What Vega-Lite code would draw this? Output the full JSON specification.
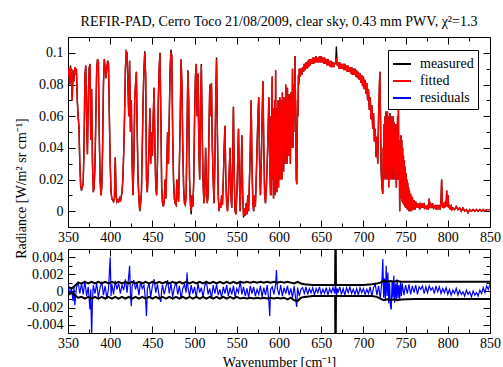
{
"$schema": "https://vega.github.io/schema/vega-lite/v6.json",
"background": "white",
"padding": {"left": 13, "top": 14, "right": 5, "bottom": 2},
"bounds": "flush",
"spacing": 22,
"config": {
  "view": {"stroke": "black", "strokeWidth": 1},
  "axis": {"labelFont": "Liberation Serif", "labelFontSize": 14, "labelColor": "black", "titleFont": "Liberation Serif", "titleFontSize": 14, "titleFontWeight": "normal", "titleColor": "black", "tickColor": "black", "tickWidth": 1, "domain": false, "grid": false, "labelOverlap": false, "labelFlush": false, "labelBound": false}
},
"datasets": {
"spec": [
{"w":350,"m":0.085,"f":0.085},{"w":351,"m":0.09,"f":0.09},{"w":352,"m":0.08,"f":0.08},{"w":353,"m":0.092,"f":0.091},{"w":354,"m":0.084,"f":0.084},{"w":355,"m":0.07,"f":0.07},{"w":356,"m":0.089,"f":0.089},{"w":357,"m":0.082,"f":0.082},{"w":358,"m":0.091,"f":0.091},{"w":359,"m":0.086,"f":0.086},
{"w":360,"m":0.09,"f":0.09},{"w":361,"m":0.07,"f":0.07},{"w":362,"m":0.06,"f":0.06},{"w":363,"m":0.053,"f":0.053},{"w":364,"m":0.03,"f":0.03},{"w":365,"m":0.016,"f":0.016},{"w":366,"m":0.013,"f":0.014},{"w":367,"m":0.015,"f":0.015},{"w":368,"m":0.018,"f":0.018},{"w":369,"m":0.04,"f":0.04},
{"w":370,"m":0.085,"f":0.085},{"w":371,"m":0.092,"f":0.092},{"w":372,"m":0.06,"f":0.06},{"w":373,"m":0.036,"f":0.036},{"w":374,"m":0.07,"f":0.07},{"w":375,"m":0.09,"f":0.09},{"w":376,"m":0.093,"f":0.093},{"w":377,"m":0.045,"f":0.045},{"w":378,"m":0.077,"f":0.077},{"w":379,"m":0.03,"f":0.03},
{"w":380,"m":0.012,"f":0.012},{"w":381,"m":0.015,"f":0.015},{"w":382,"m":0.03,"f":0.03},{"w":383,"m":0.06,"f":0.06},{"w":384,"m":0.09,"f":0.09},{"w":385,"m":0.096,"f":0.096},{"w":386,"m":0.094,"f":0.094},{"w":387,"m":0.05,"f":0.05},{"w":388,"m":0.02,"f":0.02},{"w":389,"m":0.01,"f":0.01},
{"w":390,"m":0.015,"f":0.015},{"w":391,"m":0.04,"f":0.04},{"w":392,"m":0.08,"f":0.08},{"w":393,"m":0.096,"f":0.096},{"w":394,"m":0.09,"f":0.09},{"w":395,"m":0.084,"f":0.084},{"w":396,"m":0.09,"f":0.09},{"w":397,"m":0.095,"f":0.095},{"w":398,"m":0.093,"f":0.093},{"w":399,"m":0.06,"f":0.06},
{"w":400,"m":0.03,"f":0.03},{"w":401,"m":0.012,"f":0.012},{"w":402,"m":0.008,"f":0.008},{"w":403,"m":0.007,"f":0.007},{"w":404,"m":0.006,"f":0.006},{"w":405,"m":0.008,"f":0.008},{"w":406,"m":0.034,"f":0.034},{"w":407,"m":0.01,"f":0.01},{"w":408,"m":0.006,"f":0.006},{"w":409,"m":0.007,"f":0.007},
{"w":410,"m":0.006,"f":0.006},{"w":411,"m":0.008,"f":0.008},{"w":412,"m":0.006,"f":0.006},{"w":413,"m":0.009,"f":0.009},{"w":414,"m":0.012,"f":0.012},{"w":415,"m":0.02,"f":0.02},{"w":416,"m":0.037,"f":0.037},{"w":417,"m":0.06,"f":0.06},{"w":418,"m":0.09,"f":0.09},{"w":419,"m":0.101,"f":0.101},
{"w":420,"m":0.1,"f":0.1},{"w":421,"m":0.08,"f":0.08},{"w":422,"m":0.06,"f":0.06},{"w":423,"m":0.095,"f":0.095},{"w":424,"m":0.05,"f":0.05},{"w":425,"m":0.07,"f":0.07},{"w":426,"m":0.03,"f":0.03},{"w":427,"m":0.01,"f":0.01},{"w":428,"m":0.03,"f":0.03},{"w":429,"m":0.07,"f":0.07},
{"w":430,"m":0.08,"f":0.08},{"w":431,"m":0.088,"f":0.088},{"w":432,"m":0.05,"f":0.05},{"w":433,"m":0.02,"f":0.02},{"w":434,"m":0.008,"f":0.008},{"w":435,"m":0.0,"f":0.0},{"w":436,"m":0.005,"f":0.005},{"w":437,"m":0.012,"f":0.012},{"w":438,"m":0.04,"f":0.04},{"w":439,"m":0.07,"f":0.07},
{"w":440,"m":0.09,"f":0.09},{"w":441,"m":0.101,"f":0.1},{"w":442,"m":0.085,"f":0.085},{"w":443,"m":0.02,"f":0.02},{"w":444,"m":0.012,"f":0.012},{"w":445,"m":0.025,"f":0.025},{"w":446,"m":0.04,"f":0.04},{"w":447,"m":0.065,"f":0.065},{"w":448,"m":0.03,"f":0.03},{"w":449,"m":0.05,"f":0.05},
{"w":450,"m":0.035,"f":0.035},{"w":451,"m":0.06,"f":0.06},{"w":452,"m":0.078,"f":0.078},{"w":453,"m":0.04,"f":0.04},{"w":454,"m":0.015,"f":0.015},{"w":455,"m":0.01,"f":0.01},{"w":456,"m":0.03,"f":0.03},{"w":457,"m":0.07,"f":0.07},{"w":458,"m":0.09,"f":0.09},{"w":459,"m":0.1,"f":0.1},
{"w":460,"m":0.06,"f":0.06},{"w":461,"m":0.015,"f":0.015},{"w":462,"m":0.005,"f":0.005},{"w":463,"m":0.003,"f":0.003},{"w":464,"m":0.006,"f":0.006},{"w":465,"m":0.02,"f":0.02},{"w":466,"m":0.008,"f":0.008},{"w":467,"m":0.03,"f":0.03},{"w":468,"m":0.05,"f":0.05},{"w":469,"m":0.03,"f":0.03},
{"w":470,"m":0.06,"f":0.06},{"w":471,"m":0.09,"f":0.09},{"w":472,"m":0.102,"f":0.101},{"w":473,"m":0.098,"f":0.098},{"w":474,"m":0.05,"f":0.05},{"w":475,"m":0.02,"f":0.02},{"w":476,"m":0.008,"f":0.008},{"w":477,"m":0.005,"f":0.005},{"w":478,"m":0.004,"f":0.004},{"w":479,"m":0.02,"f":0.02},
{"w":480,"m":0.01,"f":0.01},{"w":481,"m":0.006,"f":0.006},{"w":482,"m":0.03,"f":0.03},{"w":483,"m":0.06,"f":0.06},{"w":484,"m":0.096,"f":0.096},{"w":485,"m":0.08,"f":0.08},{"w":486,"m":0.04,"f":0.04},{"w":487,"m":0.015,"f":0.015},{"w":488,"m":0.005,"f":0.005},{"w":489,"m":0.004,"f":0.004},
{"w":490,"m":0.01,"f":0.01},{"w":491,"m":0.05,"f":0.05},{"w":492,"m":0.089,"f":0.088},{"w":493,"m":0.07,"f":0.07},{"w":494,"m":0.02,"f":0.02},{"w":495,"m":0.005,"f":0.005},{"w":496,"m":-0.002,"f":0.0},{"w":497,"m":0.01,"f":0.01},{"w":498,"m":0.003,"f":0.003},{"w":499,"m":0.02,"f":0.02},
{"w":500,"m":0.06,"f":0.06},{"w":501,"m":0.085,"f":0.085},{"w":502,"m":0.093,"f":0.093},{"w":503,"m":0.06,"f":0.06},{"w":504,"m":0.087,"f":0.087},{"w":505,"m":0.04,"f":0.04},{"w":506,"m":0.02,"f":0.02},{"w":507,"m":0.07,"f":0.07},{"w":508,"m":0.093,"f":0.092},{"w":509,"m":0.05,"f":0.05},
{"w":510,"m":0.02,"f":0.02},{"w":511,"m":0.005,"f":0.005},{"w":512,"m":0.01,"f":0.01},{"w":513,"m":0.04,"f":0.04},{"w":514,"m":0.02,"f":0.02},{"w":515,"m":0.005,"f":0.005},{"w":516,"m":0.01,"f":0.01},{"w":517,"m":0.05,"f":0.05},{"w":518,"m":0.08,"f":0.08},{"w":519,"m":0.06,"f":0.06},
{"w":520,"m":0.081,"f":0.081},{"w":521,"m":0.04,"f":0.04},{"w":522,"m":0.02,"f":0.02},{"w":523,"m":0.005,"f":0.005},{"w":524,"m":0.03,"f":0.03},{"w":525,"m":0.07,"f":0.07},{"w":526,"m":0.097,"f":0.096},{"w":527,"m":0.05,"f":0.05},{"w":528,"m":0.01,"f":0.01},{"w":529,"m":0.0,"f":0.0},
{"w":530,"m":0.005,"f":0.005},{"w":531,"m":0.002,"f":0.002},{"w":532,"m":0.01,"f":0.01},{"w":533,"m":0.004,"f":0.004},{"w":534,"m":0.02,"f":0.02},{"w":535,"m":0.04,"f":0.04},{"w":536,"m":0.054,"f":0.054},{"w":537,"m":0.02,"f":0.02},{"w":538,"m":0.005,"f":0.005},{"w":539,"m":0.0,"f":0.0},
{"w":540,"m":0.01,"f":0.01},{"w":541,"m":0.025,"f":0.025},{"w":542,"m":0.04,"f":0.04},{"w":543,"m":0.01,"f":0.01},{"w":544,"m":0.002,"f":0.002},{"w":545,"m":0.03,"f":0.03},{"w":546,"m":0.066,"f":0.066},{"w":547,"m":0.02,"f":0.02},{"w":548,"m":0.0,"f":0.0},{"w":549,"m":-0.002,"f":-0.002},
{"w":550,"m":0.01,"f":0.01},{"w":551,"m":0.03,"f":0.03},{"w":552,"m":0.052,"f":0.052},{"w":553,"m":0.02,"f":0.02},{"w":554,"m":0.0,"f":0.0},{"w":555,"m":0.02,"f":0.02},{"w":556,"m":0.048,"f":0.048},{"w":557,"m":0.01,"f":0.01},{"w":558,"m":-0.004,"f":-0.003},{"w":559,"m":0.002,"f":0.002},
{"w":560,"m":-0.003,"f":-0.003},{"w":561,"m":0.005,"f":0.005},{"w":562,"m":-0.002,"f":-0.002},{"w":563,"m":0.01,"f":0.01},{"w":564,"m":0.0,"f":0.0},{"w":565,"m":0.02,"f":0.02},{"w":566,"m":0.04,"f":0.04},{"w":567,"m":0.07,"f":0.07},{"w":568,"m":0.03,"f":0.03},{"w":569,"m":0.005,"f":0.005},
{"w":570,"m":0.0,"f":0.0},{"w":571,"m":0.01,"f":0.01},{"w":572,"m":0.003,"f":0.003},{"w":573,"m":0.02,"f":0.02},{"w":574,"m":0.04,"f":0.04},{"w":575,"m":0.06,"f":0.06},{"w":576,"m":0.072,"f":0.072},{"w":577,"m":0.03,"f":0.03},{"w":578,"m":0.01,"f":0.01},{"w":579,"m":0.03,"f":0.03},
{"w":580,"m":0.06,"f":0.06},{"w":581,"m":0.082,"f":0.082},{"w":582,"m":0.04,"f":0.04},{"w":583,"m":0.01,"f":0.01},{"w":584,"m":0.005,"f":0.005},{"w":585,"m":0.015,"f":0.015},{"w":586,"m":0.03,"f":0.03},{"w":587,"m":0.05,"f":0.05},{"w":588,"m":0.072,"f":0.072},{"w":589,"m":0.03,"f":0.03},
{"w":590,"m":0.01,"f":0.01},{"w":590.5,"m":0.06,"f":0.06},{"w":591,"m":0.01,"f":0.01},{"w":591.5,"m":0.07,"f":0.07},{"w":592,"m":0.085,"f":0.085},{"w":592.5,"m":0.02,"f":0.02},{"w":593,"m":0.05,"f":0.05},{"w":593.5,"m":0.008,"f":0.008},{"w":594,"m":0.065,"f":0.065},{"w":594.5,"m":0.015,"f":0.015},
{"w":595,"m":0.07,"f":0.07},{"w":595.5,"m":0.01,"f":0.01},{"w":596,"m":0.089,"f":0.089},{"w":596.5,"m":0.02,"f":0.02},{"w":597,"m":0.06,"f":0.06},{"w":597.5,"m":0.012,"f":0.012},{"w":598,"m":0.065,"f":0.065},{"w":598.5,"m":0.02,"f":0.02},{"w":599,"m":0.07,"f":0.07},{"w":599.5,"m":0.015,"f":0.015},
{"w":600,"m":0.06,"f":0.06},{"w":600.5,"m":0.025,"f":0.025},{"w":601,"m":0.072,"f":0.072},{"w":601.5,"m":0.02,"f":0.02},{"w":602,"m":0.066,"f":0.066},{"w":602.5,"m":0.03,"f":0.03},{"w":603,"m":0.07,"f":0.07},{"w":603.5,"m":0.02,"f":0.02},{"w":604,"m":0.075,"f":0.075},{"w":604.5,"m":0.035,"f":0.035},
{"w":605,"m":0.068,"f":0.068},{"w":605.5,"m":0.025,"f":0.025},{"w":606,"m":0.072,"f":0.072},{"w":606.5,"m":0.04,"f":0.04},{"w":607,"m":0.07,"f":0.07},{"w":607.5,"m":0.03,"f":0.03},{"w":608,"m":0.08,"f":0.08},{"w":608.5,"m":0.035,"f":0.035},{"w":609,"m":0.072,"f":0.072},{"w":609.5,"m":0.03,"f":0.03},
{"w":610,"m":0.078,"f":0.078},{"w":610.5,"m":0.04,"f":0.04},{"w":611,"m":0.07,"f":0.07},{"w":611.5,"m":0.035,"f":0.035},{"w":612,"m":0.074,"f":0.074},{"w":612.5,"m":0.045,"f":0.045},{"w":613,"m":0.07,"f":0.07},{"w":613.5,"m":0.03,"f":0.03},{"w":614,"m":0.075,"f":0.075},{"w":614.5,"m":0.04,"f":0.04},
{"w":615,"m":0.072,"f":0.072},{"w":615.5,"m":0.05,"f":0.05},{"w":616,"m":0.09,"f":0.09},{"w":616.5,"m":0.04,"f":0.04},{"w":617,"m":0.07,"f":0.07},{"w":617.5,"m":0.05,"f":0.05},{"w":618,"m":0.08,"f":0.08},{"w":618.5,"m":0.06,"f":0.06},{"w":619,"m":0.098,"f":0.098},{"w":619.5,"m":0.07,"f":0.07},
{"w":620,"m":0.04,"f":0.04},{"w":620.5,"m":0.02,"f":0.02},{"w":621,"m":0.017,"f":0.017},{"w":621.5,"m":0.04,"f":0.04},{"w":622,"m":0.07,"f":0.07},{"w":622.5,"m":0.06,"f":0.06},{"w":623,"m":0.086,"f":0.086},{"w":623.5,"m":0.08,"f":0.08},{"w":624,"m":0.09,"f":0.09},
{"w":625,"m":0.085,"f":0.085},{"w":626,"m":0.09,"f":0.09},{"w":627,"m":0.086,"f":0.086},{"w":628,"m":0.091,"f":0.091},{"w":629,"m":0.088,"f":0.088},{"w":630,"m":0.093,"f":0.093},{"w":631,"m":0.089,"f":0.089},{"w":632,"m":0.094,"f":0.094},{"w":633,"m":0.09,"f":0.09},{"w":634,"m":0.095,"f":0.095},
{"w":635,"m":0.091,"f":0.091},{"w":636,"m":0.096,"f":0.096},{"w":637,"m":0.092,"f":0.092},{"w":638,"m":0.096,"f":0.096},{"w":639,"m":0.093,"f":0.093},{"w":640,"m":0.097,"f":0.097},{"w":641,"m":0.093,"f":0.093},{"w":642,"m":0.097,"f":0.097},{"w":643,"m":0.094,"f":0.094},{"w":644,"m":0.098,"f":0.098},
{"w":645,"m":0.094,"f":0.094},{"w":646,"m":0.097,"f":0.097},{"w":647,"m":0.094,"f":0.094},{"w":648,"m":0.098,"f":0.098},{"w":649,"m":0.094,"f":0.094},{"w":650,"m":0.098,"f":0.098},{"w":651,"m":0.094,"f":0.094},{"w":652,"m":0.097,"f":0.097},{"w":653,"m":0.093,"f":0.093},{"w":654,"m":0.097,"f":0.097},
{"w":655,"m":0.093,"f":0.093},{"w":656,"m":0.096,"f":0.096},{"w":657,"m":0.092,"f":0.092},{"w":658,"m":0.096,"f":0.096},{"w":659,"m":0.092,"f":0.092},{"w":660,"m":0.095,"f":0.095},{"w":661,"m":0.091,"f":0.091},{"w":662,"m":0.095,"f":0.095},{"w":663,"m":0.091,"f":0.091},{"w":664,"m":0.094,"f":0.094},
{"w":665,"m":0.091,"f":0.091},{"w":666,"m":0.093,"f":0.093},{"w":667,"m":0.094,"f":0.094},{"w":667.5,"m":0.098,"f":0.096},{"w":668,"m":0.104,"f":0.097},{"w":668.5,"m":0.097,"f":0.095},{"w":669,"m":0.092,"f":0.092},{"w":670,"m":0.094,"f":0.094},
{"w":671,"m":0.09,"f":0.09},{"w":672,"m":0.094,"f":0.094},{"w":673,"m":0.09,"f":0.09},{"w":674,"m":0.093,"f":0.093},{"w":675,"m":0.09,"f":0.09},{"w":676,"m":0.093,"f":0.093},{"w":677,"m":0.089,"f":0.089},{"w":678,"m":0.093,"f":0.093},{"w":679,"m":0.089,"f":0.089},{"w":680,"m":0.092,"f":0.092},
{"w":681,"m":0.088,"f":0.088},{"w":682,"m":0.092,"f":0.092},{"w":683,"m":0.088,"f":0.088},{"w":684,"m":0.091,"f":0.091},{"w":685,"m":0.087,"f":0.087},{"w":686,"m":0.091,"f":0.091},{"w":687,"m":0.086,"f":0.086},{"w":688,"m":0.09,"f":0.09},{"w":689,"m":0.086,"f":0.086},{"w":690,"m":0.09,"f":0.09},
{"w":691,"m":0.085,"f":0.085},{"w":692,"m":0.089,"f":0.089},{"w":693,"m":0.084,"f":0.084},{"w":694,"m":0.088,"f":0.088},{"w":695,"m":0.083,"f":0.083},{"w":696,"m":0.087,"f":0.087},{"w":697,"m":0.081,"f":0.081},{"w":698,"m":0.086,"f":0.086},{"w":699,"m":0.079,"f":0.079},{"w":700,"m":0.085,"f":0.085},
{"w":701,"m":0.077,"f":0.077},{"w":702,"m":0.083,"f":0.083},{"w":703,"m":0.074,"f":0.074},{"w":704,"m":0.081,"f":0.081},{"w":705,"m":0.07,"f":0.07},{"w":706,"m":0.077,"f":0.077},{"w":707,"m":0.064,"f":0.064},{"w":708,"m":0.072,"f":0.072},{"w":709,"m":0.058,"f":0.058},{"w":710,"m":0.067,"f":0.067},
{"w":711,"m":0.052,"f":0.052},{"w":712,"m":0.062,"f":0.062},{"w":713,"m":0.044,"f":0.044},{"w":714,"m":0.052,"f":0.052},{"w":715,"m":0.034,"f":0.034},{"w":716,"m":0.047,"f":0.047},{"w":717,"m":0.03,"f":0.03},{"w":718,"m":0.06,"f":0.06},{"w":719,"m":0.08,"f":0.08},{"w":719.5,"m":0.088,"f":0.088},
{"w":720,"m":0.07,"f":0.07},{"w":721,"m":0.026,"f":0.026},{"w":722,"m":0.015,"f":0.015},{"w":723,"m":0.011,"f":0.011},{"w":723.5,"m":0.04,"f":0.04},{"w":724,"m":0.02,"f":0.02},{"w":724.5,"m":0.055,"f":0.055},{"w":725,"m":0.025,"f":0.025},{"w":725.5,"m":0.06,"f":0.06},{"w":726,"m":0.02,"f":0.02},
{"w":726.5,"m":0.063,"f":0.063},{"w":727,"m":0.03,"f":0.03},{"w":727.5,"m":0.058,"f":0.058},{"w":728,"m":0.02,"f":0.02},{"w":728.5,"m":0.063,"f":0.063},{"w":729,"m":0.025,"f":0.025},{"w":729.5,"m":0.055,"f":0.055},{"w":730,"m":0.015,"f":0.015},{"w":730.5,"m":0.06,"f":0.06},{"w":731,"m":0.03,"f":0.03},
{"w":731.5,"m":0.062,"f":0.062},{"w":732,"m":0.02,"f":0.02},{"w":732.5,"m":0.058,"f":0.058},{"w":733,"m":0.025,"f":0.025},{"w":733.5,"m":0.06,"f":0.06},{"w":734,"m":0.02,"f":0.02},{"w":734.5,"m":0.055,"f":0.055},{"w":735,"m":0.03,"f":0.03},{"w":735.5,"m":0.06,"f":0.06},{"w":736,"m":0.02,"f":0.02},
{"w":736.5,"m":0.056,"f":0.056},{"w":737,"m":0.025,"f":0.025},{"w":737.5,"m":0.05,"f":0.05},{"w":738,"m":0.02,"f":0.02},{"w":738.5,"m":0.055,"f":0.055},{"w":739,"m":0.015,"f":0.015},{"w":739.5,"m":0.05,"f":0.05},{"w":740,"m":0.02,"f":0.02},{"w":740.5,"m":0.06,"f":0.06},{"w":741,"m":0.025,"f":0.025},
{"w":741.5,"m":0.065,"f":0.065},{"w":742,"m":0.02,"f":0.02},{"w":742.5,"m":0.045,"f":0.045},{"w":743,"m":0.0,"f":0.0},{"w":743.5,"m":0.04,"f":0.04},{"w":744,"m":0.01,"f":0.01},{"w":744.5,"m":0.048,"f":0.048},{"w":745,"m":0.008,"f":0.008},{"w":745.5,"m":0.045,"f":0.045},{"w":746,"m":0.006,"f":0.006},
{"w":746.5,"m":0.04,"f":0.04},{"w":747,"m":0.005,"f":0.005},{"w":747.5,"m":0.035,"f":0.035},{"w":748,"m":0.004,"f":0.004},{"w":748.5,"m":0.032,"f":0.032},{"w":749,"m":0.003,"f":0.003},{"w":749.5,"m":0.028,"f":0.028},{"w":750,"m":0.002,"f":0.002},{"w":750.5,"m":0.024,"f":0.024},{"w":751,"m":0.002,"f":0.002},
{"w":751.5,"m":0.02,"f":0.02},{"w":752,"m":0.001,"f":0.001},{"w":752.5,"m":0.018,"f":0.018},{"w":753,"m":0.001,"f":0.001},{"w":753.5,"m":0.015,"f":0.015},{"w":754,"m":0.0,"f":0.0},{"w":754.5,"m":0.013,"f":0.013},{"w":755,"m":0.0,"f":0.0},{"w":756,"m":0.011,"f":0.011},{"w":757,"m":0.0,"f":0.0},
{"w":758,"m":0.009,"f":0.009},{"w":759,"m":0.001,"f":0.001},{"w":760,"m":0.007,"f":0.007},{"w":761,"m":0.001,"f":0.001},{"w":762,"m":0.006,"f":0.006},{"w":763,"m":0.002,"f":0.002},{"w":764,"m":0.005,"f":0.005},{"w":765,"m":0.002,"f":0.002},{"w":766,"m":0.004,"f":0.004},{"w":767,"m":0.002,"f":0.002},
{"w":768,"m":0.004,"f":0.004},{"w":769,"m":0.002,"f":0.002},{"w":770,"m":0.005,"f":0.005},{"w":771,"m":0.002,"f":0.002},{"w":772,"m":0.004,"f":0.004},{"w":773,"m":0.002,"f":0.002},{"w":774,"m":0.003,"f":0.003},{"w":775,"m":0.002,"f":0.002},{"w":776,"m":0.004,"f":0.004},{"w":777,"m":0.001,"f":0.001},
{"w":778,"m":0.008,"f":0.008},{"w":779,"m":0.002,"f":0.002},{"w":780,"m":0.004,"f":0.004},{"w":781,"m":0.002,"f":0.002},{"w":782,"m":0.005,"f":0.005},{"w":783,"m":0.002,"f":0.002},{"w":784,"m":0.003,"f":0.003},{"w":785,"m":0.002,"f":0.002},{"w":786,"m":0.004,"f":0.004},{"w":787,"m":0.001,"f":0.001},
{"w":788,"m":0.003,"f":0.003},{"w":789,"m":0.002,"f":0.002},{"w":790,"m":0.004,"f":0.004},{"w":791,"m":0.001,"f":0.001},{"w":792,"m":0.008,"f":0.008},{"w":792.7,"m":0.02,"f":0.02},{"w":793.5,"m":0.004,"f":0.004},{"w":794,"m":0.002,"f":0.002},{"w":795,"m":0.004,"f":0.004},{"w":796,"m":0.002,"f":0.002},
{"w":797,"m":0.006,"f":0.006},{"w":798,"m":0.003,"f":0.003},{"w":798.7,"m":0.013,"f":0.013},{"w":799.5,"m":0.003,"f":0.003},{"w":800.5,"m":0.01,"f":0.01},{"w":801,"m":0.002,"f":0.002},{"w":802,"m":0.004,"f":0.004},{"w":803,"m":0.001,"f":0.001},{"w":804,"m":0.003,"f":0.003},{"w":805,"m":0.001,"f":0.001},
{"w":806,"m":0.002,"f":0.002},{"w":808,"m":0.001,"f":0.001},{"w":810,"m":0.003,"f":0.003},{"w":812,"m":0.001,"f":0.001},{"w":814,"m":0.002,"f":0.002},{"w":816,"m":0.0,"f":0.0},{"w":818,"m":0.002,"f":0.002},{"w":820,"m":0.0,"f":0.0},{"w":822,"m":0.001,"f":0.001},{"w":824,"m":-0.001,"f":-0.001},
{"w":826,"m":0.001,"f":0.001},{"w":828,"m":0.0,"f":0.0},{"w":830,"m":0.001,"f":0.001},{"w":832,"m":0.0,"f":0.0},{"w":834,"m":0.001,"f":0.001},{"w":836,"m":0.0,"f":0.0},{"w":838,"m":0.001,"f":0.001},{"w":840,"m":0.0,"f":0.0},{"w":842,"m":0.001,"f":0.001},{"w":844,"m":0.0,"f":0.0},
{"w":846,"m":0.001,"f":0.001},{"w":848,"m":0.001,"f":0.001},{"w":850,"m":0.001,"f":0.001}
],
"res": [
{"w":350,"r":0.0008},{"w":352,"r":-0.0005},{"w":354,"r":0.0003},{"w":356,"r":-0.0012},{"w":357,"r":0.0006},{"w":358,"r":-0.0017},{"w":360,"r":0.0004},{"w":362,"r":0.0011},{"w":364,"r":-0.0003},{"w":366,"r":0.0009},
{"w":368,"r":-0.0004},{"w":370,"r":0.0012},{"w":372,"r":-0.0006},{"w":374,"r":0.0005},{"w":376,"r":-0.0022},{"w":377,"r":0.0002},{"w":378,"r":-0.0055},{"w":379,"r":-0.001},{"w":380,"r":0.0007},{"w":382,"r":-0.0003},
{"w":384,"r":0.0009},{"w":386,"r":-0.0008},{"w":388,"r":0.0004},{"w":390,"r":0.0011},{"w":392,"r":-0.0005},{"w":394,"r":0.0006},{"w":396,"r":-0.0009},{"w":398,"r":0.0003},{"w":400,"r":0.004},{"w":401,"r":-0.0006},
{"w":402,"r":0.0008},{"w":404,"r":-0.0004},{"w":406,"r":0.0012},{"w":408,"r":0.0002},{"w":410,"r":0.0009},{"w":412,"r":-0.0003},{"w":414,"r":0.0007},{"w":416,"r":0.0001},{"w":418,"r":0.0014},{"w":420,"r":-0.0002},
{"w":422,"r":0.0018},{"w":423,"r":0.003},{"w":424,"r":-0.0004},{"w":425,"r":-0.0018},{"w":426,"r":0.0006},{"w":428,"r":0.0013},{"w":430,"r":0.0002},{"w":432,"r":0.0009},{"w":434,"r":-0.0005},{"w":436,"r":0.0011},
{"w":438,"r":0.0003},{"w":440,"r":0.0007},{"w":442,"r":-0.0012},{"w":443,"r":-0.003},{"w":444,"r":0.0002},{"w":446,"r":0.0009},{"w":448,"r":-0.0007},{"w":450,"r":0.0006},{"w":452,"r":0.0014},{"w":454,"r":-0.0002},
{"w":456,"r":0.0008},{"w":458,"r":-0.0006},{"w":460,"r":-0.0013},{"w":461,"r":0.0001},{"w":462,"r":0.0007},{"w":464,"r":-0.0004},{"w":466,"r":0.0005},{"w":468,"r":0.0013},{"w":470,"r":-0.0003},{"w":472,"r":0.0009},
{"w":474,"r":-0.0007},{"w":476,"r":0.0004},{"w":478,"r":0.0011},{"w":480,"r":-0.0004},{"w":482,"r":0.0006},{"w":484,"r":-0.0009},{"w":486,"r":0.0003},{"w":488,"r":0.0008},{"w":490,"r":-0.0002},{"w":491,"r":0.0022},
{"w":492,"r":0.0005},{"w":494,"r":-0.0006},{"w":496,"r":0.0007},{"w":498,"r":-0.0003},{"w":500,"r":0.0005},{"w":502,"r":-0.0008},{"w":504,"r":0.0009},{"w":506,"r":-0.0002},{"w":508,"r":0.0004},{"w":510,"r":-0.0007},
{"w":512,"r":0.0006},{"w":514,"r":0.0012},{"w":516,"r":-0.0004},{"w":518,"r":0.0003},{"w":520,"r":-0.0009},{"w":522,"r":0.0007},{"w":524,"r":-0.0003},{"w":526,"r":0.0008},{"w":528,"r":-0.0005},{"w":530,"r":0.0002},
{"w":532,"r":-0.0008},{"w":534,"r":0.0005},{"w":536,"r":-0.0003},{"w":538,"r":0.0007},{"w":540,"r":-0.0006},{"w":542,"r":0.0004},{"w":544,"r":-0.0004},{"w":546,"r":0.0006},{"w":548,"r":-0.0007},{"w":550,"r":0.0003},
{"w":552,"r":-0.0002},{"w":554,"r":0.0012},{"w":556,"r":-0.0004},{"w":558,"r":0.0005},{"w":560,"r":-0.0006},{"w":562,"r":0.0003},{"w":564,"r":-0.0008},{"w":566,"r":0.0006},{"w":568,"r":-0.0003},{"w":570,"r":0.0005},
{"w":572,"r":-0.0006},{"w":574,"r":0.0002},{"w":576,"r":-0.0004},{"w":578,"r":0.0006},{"w":580,"r":-0.0007},{"w":582,"r":0.0004},{"w":584,"r":-0.0005},{"w":586,"r":0.0007},{"w":588,"r":-0.0012},{"w":589,"r":-0.003},
{"w":590,"r":0.0002},{"w":592,"r":0.0005},{"w":594,"r":-0.0004},{"w":596,"r":0.0008},{"w":597,"r":0.0025},{"w":598,"r":0.0003},{"w":600,"r":-0.0005},{"w":602,"r":0.0007},{"w":604,"r":-0.0006},{"w":606,"r":0.0004},
{"w":608,"r":-0.0003},{"w":610,"r":0.0006},{"w":612,"r":-0.0005},{"w":614,"r":0.0003},{"w":616,"r":-0.0008},{"w":618,"r":0.0006},{"w":620,"r":-0.0012},{"w":621,"r":-0.0019},{"w":622,"r":0.0004},{"w":624,"r":-0.0006},
{"w":626,"r":0.0002},{"w":628,"r":0.0004},{"w":630,"r":-0.0003},{"w":632,"r":0.0005},{"w":634,"r":-0.0004},{"w":636,"r":0.0003},{"w":638,"r":-0.0002},{"w":640,"r":0.0004},{"w":642,"r":-0.0005},{"w":644,"r":0.0003},
{"w":646,"r":-0.0002},{"w":648,"r":0.0005},{"w":650,"r":-0.0004},{"w":652,"r":0.0002},{"w":654,"r":-0.0003},{"w":656,"r":0.0004},{"w":658,"r":-0.0005},{"w":660,"r":0.0003},{"w":662,"r":-0.0002},{"w":664,"r":0.0004},
{"w":666,"r":-0.0003},{"w":667,"r":0.0012},{"w":668,"r":-0.0008},{"w":669,"r":0.0003},{"w":670,"r":-0.0002},{"w":672,"r":0.0005},{"w":674,"r":-0.0004},{"w":676,"r":0.0003},{"w":678,"r":-0.0005},{"w":680,"r":0.0004},
{"w":682,"r":-0.0002},{"w":684,"r":0.0005},{"w":686,"r":-0.0003},{"w":688,"r":0.0002},{"w":690,"r":-0.0004},{"w":692,"r":0.0003},{"w":694,"r":-0.0005},{"w":696,"r":0.0004},{"w":698,"r":-0.0002},{"w":700,"r":0.0003},
{"w":702,"r":-0.0004},{"w":704,"r":0.0002},{"w":706,"r":-0.0003},{"w":708,"r":0.0005},{"w":710,"r":-0.0006},{"w":712,"r":0.0004},{"w":714,"r":0.0008},{"w":716,"r":-0.0005},{"w":718,"r":0.0006},{"w":720,"r":-0.0009},
{"w":722,"r":0.0012},{"w":723,"r":0.0038},{"w":724,"r":-0.0008},{"w":725,"r":0.0015},{"w":726,"r":-0.0012},{"w":727,"r":0.003},{"w":728,"r":-0.0006},{"w":729,"r":0.0022},{"w":730,"r":-0.0015},{"w":731,"r":0.001},
{"w":732,"r":-0.0018},{"w":733,"r":-0.0022},{"w":734,"r":0.0012},{"w":735,"r":-0.0008},{"w":736,"r":0.0018},{"w":737,"r":-0.0014},{"w":738,"r":0.0009},{"w":739,"r":-0.0011},{"w":740,"r":0.0014},{"w":741,"r":-0.0009},
{"w":742,"r":0.0007},{"w":743,"r":-0.001},{"w":744,"r":0.0011},{"w":745,"r":-0.0006},{"w":746,"r":0.0009},{"w":748,"r":-0.0005},{"w":750,"r":0.0007},{"w":752,"r":-0.0003},{"w":754,"r":0.0008},{"w":756,"r":-0.0004},
{"w":758,"r":0.0006},{"w":760,"r":-0.0002},{"w":762,"r":0.0007},{"w":764,"r":-0.0004},{"w":766,"r":0.0005},{"w":768,"r":0.0002},{"w":770,"r":0.0006},{"w":772,"r":-0.0003},{"w":774,"r":0.0005},{"w":776,"r":-0.0002},
{"w":778,"r":0.0006},{"w":780,"r":0.0001},{"w":782,"r":0.0004},{"w":784,"r":-0.0003},{"w":786,"r":0.0006},{"w":788,"r":-0.0001},{"w":790,"r":0.0005},{"w":792,"r":-0.0003},{"w":794,"r":0.0003},{"w":796,"r":-0.0002},
{"w":798,"r":0.0004},{"w":800,"r":-0.0004},{"w":802,"r":0.0002},{"w":804,"r":-0.0005},{"w":806,"r":0.0001},{"w":808,"r":-0.0003},{"w":810,"r":0.0003},{"w":812,"r":-0.0005},{"w":814,"r":0.0001},{"w":816,"r":-0.0004},
{"w":818,"r":-0.0001},{"w":820,"r":-0.0006},{"w":822,"r":0.0001},{"w":824,"r":-0.0004},{"w":826,"r":-0.0001},{"w":828,"r":-0.0007},{"w":830,"r":0.0},{"w":832,"r":-0.0005},{"w":834,"r":-0.0002},{"w":836,"r":-0.0006},
{"w":838,"r":0.0001},{"w":840,"r":-0.0003},{"w":842,"r":0.0004},{"w":844,"r":-0.0002},{"w":846,"r":0.0006},{"w":848,"r":0.0002},{"w":850,"r":0.0008}
],
"env": [
{"w":350,"up":0.0005,"lo":-0.0004},{"w":354,"up":0.0003,"lo":-0.0002},{"w":358,"up":0.0006,"lo":-0.0005},{"w":362,"up":0.001,"lo":-0.0008},
{"w":366,"up":0.0009,"lo":-0.0007},{"w":370,"up":0.0011,"lo":-0.0009},{"w":374,"up":0.0009,"lo":-0.0007},{"w":378,"up":0.0011,"lo":-0.0009},{"w":382,"up":0.0009,"lo":-0.0007},{"w":386,"up":0.0011,"lo":-0.0009},
{"w":390,"up":0.0009,"lo":-0.0007},{"w":394,"up":0.0011,"lo":-0.0009},{"w":398,"up":0.0009,"lo":-0.0007},{"w":402,"up":0.0011,"lo":-0.0009},{"w":406,"up":0.0009,"lo":-0.0007},{"w":410,"up":0.0011,"lo":-0.0009},
{"w":414,"up":0.0009,"lo":-0.0007},{"w":418,"up":0.0011,"lo":-0.0009},{"w":422,"up":0.0009,"lo":-0.0007},{"w":426,"up":0.0011,"lo":-0.0009},{"w":430,"up":0.0009,"lo":-0.0007},{"w":434,"up":0.0011,"lo":-0.0009},
{"w":438,"up":0.0009,"lo":-0.0007},{"w":442,"up":0.0011,"lo":-0.0009},{"w":446,"up":0.0009,"lo":-0.0007},{"w":450,"up":0.0011,"lo":-0.0009},{"w":454,"up":0.0009,"lo":-0.0007},{"w":458,"up":0.0011,"lo":-0.0009},
{"w":462,"up":0.0009,"lo":-0.0007},{"w":466,"up":0.0011,"lo":-0.0009},{"w":470,"up":0.0009,"lo":-0.0007},{"w":474,"up":0.0011,"lo":-0.0009},{"w":478,"up":0.0009,"lo":-0.0007},{"w":482,"up":0.0011,"lo":-0.0009},
{"w":486,"up":0.0009,"lo":-0.0007},{"w":490,"up":0.0011,"lo":-0.0009},{"w":494,"up":0.0009,"lo":-0.0007},{"w":498,"up":0.0011,"lo":-0.0009},{"w":502,"up":0.0009,"lo":-0.0007},{"w":506,"up":0.0011,"lo":-0.0009},
{"w":510,"up":0.0009,"lo":-0.0007},{"w":514,"up":0.0011,"lo":-0.0009},{"w":518,"up":0.0009,"lo":-0.0007},{"w":522,"up":0.0011,"lo":-0.0009},{"w":526,"up":0.0009,"lo":-0.0007},{"w":530,"up":0.0011,"lo":-0.0009},
{"w":534,"up":0.0009,"lo":-0.0007},{"w":538,"up":0.0011,"lo":-0.0009},{"w":542,"up":0.0009,"lo":-0.0007},{"w":546,"up":0.0011,"lo":-0.0009},{"w":550,"up":0.0009,"lo":-0.0007},{"w":554,"up":0.0011,"lo":-0.0009},
{"w":558,"up":0.001,"lo":-0.0008},{"w":562,"up":0.0011,"lo":-0.0009},{"w":566,"up":0.001,"lo":-0.0008},{"w":570,"up":0.0011,"lo":-0.0009},{"w":574,"up":0.001,"lo":-0.0008},{"w":578,"up":0.0011,"lo":-0.0009},
{"w":582,"up":0.001,"lo":-0.0008},{"w":586,"up":0.0011,"lo":-0.0009},{"w":590,"up":0.001,"lo":-0.0008},{"w":594,"up":0.0011,"lo":-0.0009},{"w":598,"up":0.001,"lo":-0.0008},{"w":602,"up":0.0011,"lo":-0.0009},
{"w":606,"up":0.001,"lo":-0.0008},{"w":610,"up":0.0011,"lo":-0.001},{"w":614,"up":0.001,"lo":-0.0008},{"w":618,"up":0.0009,"lo":-0.0011},{"w":622,"up":0.0011,"lo":-0.0012},{"w":626,"up":0.0009,"lo":-0.0008},
{"w":630,"up":0.0008,"lo":-0.0007},{"w":640,"up":0.0007,"lo":-0.0006},{"w":650,"up":0.0007,"lo":-0.0006},{"w":660,"up":0.0007,"lo":-0.0006},{"w":666.5,"up":0.0007,"lo":-0.0006},{"w":667,"up":0.01,"lo":-0.01},
{"w":667.5,"up":0.0007,"lo":-0.0006},{"w":680,"up":0.0007,"lo":-0.0006},{"w":700,"up":0.0007,"lo":-0.0006},{"w":710,"up":0.0008,"lo":-0.0006},{"w":716,"up":0.0009,"lo":-0.0007},{"w":720,"up":0.001,"lo":-0.0009},
{"w":724,"up":0.0012,"lo":-0.0011},{"w":728,"up":0.0011,"lo":-0.001},{"w":732,"up":0.0012,"lo":-0.0011},{"w":736,"up":0.0011,"lo":-0.001},{"w":740,"up":0.0012,"lo":-0.0011},{"w":745,"up":0.0011,"lo":-0.001},
{"w":760,"up":0.0011,"lo":-0.00095},{"w":800,"up":0.0011,"lo":-0.00095},{"w":850,"up":0.0011,"lo":-0.00095}
]
},
"vconcat": [
{
  "width": 422, "height": 190,
  "title": {"text": "REFIR-PAD, Cerro Toco 21/08/2009, clear sky, 0.43 mm PWV, χ²=1.3", "font": "Liberation Serif", "fontSize": 14, "fontWeight": "normal", "color": "black", "anchor": "middle", "frame": "group", "offset": 8},
  "data": {"name": "spec"},
  "layer": [
    {"mark": {"type": "line", "clip": true, "strokeWidth": 1.4},
     "encoding": {
       "x": {"field": "w", "type": "quantitative", "scale": {"domain": [350, 850], "nice": false, "zero": false},
             "axis": {"orient": "bottom", "title": null, "values": [350,375,400,425,450,475,500,525,550,575,600,625,650,675,700,725,750,775,800,825,850], "labelExpr": "datum.value % 50 == 0 ? datum.label : ''", "tickSize": {"condition": {"test": "datum.value % 50 == 0", "value": -7}, "value": -4}, "labelPadding": 10}},
       "y": {"field": "m", "type": "quantitative", "scale": {"domain": [-0.01, 0.11], "nice": false, "zero": false},
             "axis": {"orient": "left", "title": "Radiance [W/m² sr cm⁻¹]", "titleX": -43, "titleY": 151, "titleAngle": -90, "titleBaseline": "alphabetic", "titleAlign": "center", "values": [0,0.01,0.02,0.03,0.04,0.05,0.06,0.07,0.08,0.09,0.1], "labelExpr": "round(datum.value*100) % 2 == 0 ? format(datum.value, '~g') : ''", "tickSize": {"condition": {"test": "round(datum.value*100) % 2 == 0", "value": -7}, "value": -4}, "labelPadding": 12}},
       "color": {"datum": "measured", "type": "nominal", "scale": {"domain": ["measured", "fitted", "residuals"], "range": ["#000000", "#ff0000", "#0000ff"]},
                 "legend": {"orient": "none", "legendX": 320, "legendY": 13, "title": null, "symbolType": "stroke", "symbolStrokeWidth": 2, "symbolSize": 324, "labelFont": "Liberation Serif", "labelFontSize": 14, "labelColor": "black", "strokeColor": "black", "fillColor": "white", "padding": 4, "rowPadding": -6, "labelOffset": 8}}
     }},
    {"mark": {"type": "line", "clip": true, "strokeWidth": 1.4},
     "encoding": {
       "x": {"field": "w", "type": "quantitative", "axis": {"orient": "top", "title": null, "labels": false, "values": [350,375,400,425,450,475,500,525,550,575,600,625,650,675,700,725,750,775,800,825,850], "tickSize": {"condition": {"test": "datum.value % 50 == 0", "value": -7}, "value": -4}}},
       "y": {"field": "f", "type": "quantitative", "axis": {"orient": "right", "title": null, "labels": false, "values": [0,0.01,0.02,0.03,0.04,0.05,0.06,0.07,0.08,0.09,0.1], "tickSize": {"condition": {"test": "round(datum.value*100) % 2 == 0", "value": -7}, "value": -4}}},
       "color": {"datum": "fitted", "type": "nominal"}
     }}
  ],
  "resolve": {"axis": {"x": "independent", "y": "independent"}}
},
{
  "width": 422, "height": 84,
  "layer": [
    {"data": {"name": "res"},
     "mark": {"type": "line", "clip": true, "strokeWidth": 1.2, "color": "#0000ff"},
     "encoding": {
       "x": {"field": "w", "type": "quantitative", "scale": {"domain": [350, 850], "nice": false, "zero": false},
             "axis": {"orient": "bottom", "title": "Wavenumber [cm⁻¹]", "values": [350,375,400,425,450,475,500,525,550,575,600,625,650,675,700,725,750,775,800,825,850], "labelExpr": "datum.value % 50 == 0 ? datum.label : ''", "tickSize": {"condition": {"test": "datum.value % 50 == 0", "value": -7}, "value": -4}, "labelPadding": 10, "titlePadding": 2}},
       "y": {"field": "r", "type": "quantitative", "scale": {"domain": [-0.005, 0.005], "nice": false, "zero": false},
             "axis": {"orient": "left", "title": null, "values": [-0.004,-0.003,-0.002,-0.001,0,0.001,0.002,0.003,0.004], "labelExpr": "round(datum.value*1000) % 2 == 0 ? (datum.value < 0 ? '-' : '') + format(abs(datum.value), '~g') : ''", "tickSize": {"condition": {"test": "round(datum.value*1000) % 2 == 0", "value": -7}, "value": -4}, "labelPadding": 12}}
     }},
    {"data": {"name": "env"},
     "mark": {"type": "line", "clip": true, "strokeWidth": 2, "color": "black"},
     "encoding": {
       "x": {"field": "w", "type": "quantitative", "axis": {"orient": "top", "title": null, "labels": false, "values": [350,375,400,425,450,475,500,525,550,575,600,625,650,675,700,725,750,775,800,825,850], "tickSize": {"condition": {"test": "datum.value % 50 == 0", "value": -7}, "value": -4}}},
       "y": {"field": "up", "type": "quantitative", "axis": {"orient": "right", "title": null, "labels": false, "values": [-0.004,-0.003,-0.002,-0.001,0,0.001,0.002,0.003,0.004], "tickSize": {"condition": {"test": "round(datum.value*1000) % 2 == 0", "value": -7}, "value": -4}}}
     }},
    {"data": {"name": "env"},
     "mark": {"type": "line", "clip": true, "strokeWidth": 2, "color": "black"},
     "encoding": {
       "x": {"field": "w", "type": "quantitative", "axis": null},
       "y": {"field": "lo", "type": "quantitative", "axis": null}
     }}
  ],
  "resolve": {"axis": {"x": "independent", "y": "independent"}}
}
]
}
